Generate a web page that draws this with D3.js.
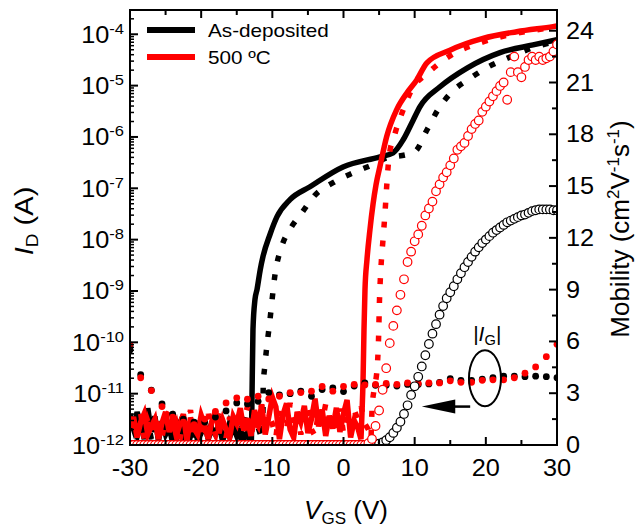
<!DOCTYPE html>
<html><head><meta charset="utf-8">
<script src="https://cdn.jsdelivr.net/npm/d3@7"></script>
<style>
body{margin:0;background:#fff}
svg{display:block}
text{font-family:"Liberation Sans",Arial,sans-serif;fill:#000}
</style>
</head><body>
<svg id="c" width="637" height="529"></svg>
<script>
// ---------------- DATA ----------------
const xDomain = [-30, 30];
const xTicks = [-30, -20, -10, 0, 10, 20, 30];
const xMinorTicks = [-25, -15, -5, 5, 15, 25];
const yDecades = [-12, -11, -10, -9, -8, -7, -6, -5, -4];
const yDomain = [1e-12, 2.97e-4];
const muTicks = [0, 3, 6, 9, 12, 15, 18, 21, 24];
const muMinorTicks = [1.5, 4.5, 7.5, 10.5, 13.5, 16.5, 19.5, 22.5];
const muDomain = [0, 25.2];
const legendLabels = ["As-deposited", "500 ºC"];
const seriesColors = ["#000000", "#ff0000"];

// sampling grids (V_GS)
const offStart = -30, offStep = 0.5;
const vgsMu = d3.range(-30, 30.001, 0.5);   // mobility sampling
const vgsIG = d3.range(-30, 30.001, 1.5);   // gate-current sampling

// Off-state drain current noise (pA) on the 0.5 V grid starting at -30 V
const idAsDepFwdOffPA = [3.2,2.0,4.4,2.6,1.3,5.2,1.8,3.6,1.2,2.9,
  1.6,2.2,1.1,1.9,2.7,1.3,2.0,1.5,2.8,1.2,
  1.7,2.4,1.3,2.1,1.6,2.6,1.2,1.9,1.4,2.3,
  1.5,2.0,1.3,1.8];
const idAsDepRevOffPA = [4.0,2.4,1.5,3.4,1.9,2.8,1.3,3.8,2.0,1.4,
  2.9,1.7,3.3,1.2,2.2,3.0,1.5,2.5,1.2,3.1,
  1.8,2.3,1.4,2.9,1.6,3.6,2.0,1.3,2.7,1.9,
  3.2,1.5,2.4,4.2,2.8,3.5,2.2];
const idAnnFwdOffPA = [2.2,3.5,1.4,2.8,4.1,1.6,2.3,3.2,1.3,2.7,
  4.4,1.8,3.0,1.5,2.5,4.0,1.2,3.4,2.1,1.6,
  3.8,2.4,1.3,2.9,4.6,1.7,3.1,2.0,1.4,3.6,
  2.6,5.2,1.9,3.3,1.5,4.8,2.2,6.0,1.6,3.5,
  8.5,5.5,1.3,3.9,6.5,2.0,1.4,4.4,2.8,5.8,
  1.7,3.2,8.0,2.3,4.9,1.5,3.7,2.1,5.3,1.8,
  4.1,7.5,1.4,3.0,2.2];
const idAnnRevOffPA = [3.0,1.6,2.4,4.2,1.3,2.9,1.8,3.6,2.2,1.4,
  3.3,4.5,1.7,2.6,1.2,3.8,2.0,4.8,1.5,2.7,
  3.4,1.3,4.0,2.3,1.6,5.0,2.8,1.4,3.5,2.1,
  4.3,1.7,2.9,5.6,1.5,3.2,2.4,6.2,1.8,4.0,
  2.6,1.4,5.4,3.1,1.9,6.6,2.5,4.2,1.6,3.4,
  5.9,2.0,1.5,4.6,2.8,6.3,1.9,3.6,2.2,5.1,
  1.7,3.9,2.4,4.8,3.2,5.5,2.6,2.0];

// On-state drain current (V, A)
const idAsDepFwdV = [-12.95,-12.86,-12.72,-12.44,-12.15,-11.7,-11.31,-10.33,-9.34,-7.52,-4.71,-0.07,5.13,6.96,8.36,9.77,10.75,13.56,17.36,22.0,26.63,30];
const idAsDepFwdA = [1.0e-12,7.8e-12,1.78e-10,6.8e-10,1.07e-9,2.6e-9,4.7e-9,1.26e-8,2.8e-8,6.0e-8,1.07e-7,2.6e-7,4.1e-7,4.9e-7,8.7e-7,2.1e-6,3.9e-6,9.5e-6,2.2e-5,4.4e-5,6.2e-5,7.8e-5];
const idAsDepRevV = [-11.45,-11.31,-11.28,-11.03,-10.33,-9.62,-8.68,-7.52,-5.87,-4.0,-1.47,1.34,4.15,6.54,7.52,10.05,11.74,13.28,15.25,17.78,20.31,23.40,26.49,28.6,30];
const idAsDepRevA = [1.3e-12,4.9e-12,1.38e-11,3.7e-11,2.75e-10,2.1e-9,7.4e-9,1.58e-8,3.3e-8,7.4e-8,1.29e-7,2.0e-7,2.9e-7,4.1e-7,4.2e-7,5.2e-7,1.38e-6,3.4e-6,7.6e-6,1.38e-5,2.3e-5,3.6e-5,5.4e-5,6.6e-5,7.4e-5];
const idAnnFwdV = [2.46,2.60,2.74,2.88,3.02,3.30,3.72,4.15,4.57,5.13,6.07,7.48,8.88,10.29,11.69,14.97,19.60,24.34,29.44,30];
const idAnnFwdA = [1.3e-12,4.3e-12,1.66e-11,1.78e-10,1.07e-9,4.1e-9,1.58e-8,4.9e-8,1.17e-7,2.7e-7,1.02e-6,3.4e-6,7.1e-6,1.29e-5,2.75e-5,4.9e-5,8.3e-5,1.12e-4,1.41e-4,1.45e-4];
const idAnnRevV = [3.87,4.01,4.29,4.71,4.92,5.06,5.27,5.55,5.83,6.07,6.40,7.24,8.40,9.58,11.73,14.97,19.60,24.38,30];
const idAnnRevA = [1.3e-12,4.9e-12,1.2e-11,2.95e-11,1.12e-10,6.8e-10,2.95e-9,1.0e-8,3.3e-8,1.1e-7,4.1e-7,1.17e-6,3.4e-6,8.3e-6,1.7e-5,3.8e-5,7.1e-5,1.05e-4,1.38e-4];

// Gate leakage |I_G| (pA) at vgsIG
const igAsDepPA = [70.8,23.4,11.7,6.3,4.0,3.2,2.8,2.8,3.5,4.6,
  6.6,6.3,7.1,10.5,9.5,10.0,11.2,8.9,12.0,12.9,
  11.0,14.1,16.2,14.5,14.5,14.1,15.1,15.1,15.5,16.6,
  19.5,18.2,18.2,19.1,20.4,21.9,21.9,21.4,21.9,21.4,
  20.4];
const igAnnPA = [89.1,20.4,11.5,5.6,3.5,2.8,2.5,3.2,4.5,6.6,
  8.3,7.8,8.9,7.9,8.9,10.5,10.5,11.2,13.8,11.2,
  13.8,15.1,14.8,15.1,15.8,15.1,16.2,15.8,16.2,16.2,
  17.8,16.6,16.6,18.2,18.6,18.6,20.4,25.1,33.1,52.5,
  91.2];

// Field-effect mobility (cm2/Vs) at vgsMu
const muAsDep = [0,0,0,0,0,0,0,0,0,0,
  0,0,0,0,0,0,0,0,0,0,
  0,0,0,0,0,0,0,0,0,0,
  0,0,0,0,0,0,0,0,0,0,
  0,0,0,0,0,0,0,0,0,0,
  0,0,0,0,0,0,0,0,0,0,
  0,0,0,0,0,0,0,0,0,
  0.03,0.08,0.15,0.28,0.45,0.7,1.0,1.35,1.8,2.3,
  2.9,3.4,3.95,4.55,5.2,5.85,6.45,7.0,7.55,8.05,
  8.5,8.85,9.2,9.6,9.95,10.3,10.6,10.9,11.2,11.45,
  11.7,11.9,12.1,12.3,12.45,12.6,12.75,12.9,13.0,13.1,
  13.2,13.3,13.35,13.45,13.55,13.6,13.65,13.65,13.65,13.65,
  13.6,13.6];
const muAnn = [0,0,0,0,0,0,0,0,0,0,
  0,0,0,0,0,0,0,0,0,0,
  0,0,0,0,0,0,0,0,0,0,
  0,0,0,0,0,0,0,0,0,0,
  0,0,0,0,0,0,0,0,0,0,
  0,0,0,0,0,0,0,0,0,0,
  0,0,0,0,0,0,0,
  0.1,0.35,1.1,2.0,3.2,4.45,5.9,6.9,7.8,8.7,
  9.6,10.6,11.2,11.8,12.2,12.7,13.3,13.7,14.1,14.7,
  15.1,15.5,15.8,16.2,16.6,17.1,17.3,17.5,17.9,18.3,
  18.6,18.8,19.3,19.6,19.9,20.2,20.5,20.8,21.0,20.0,
  21.6,22.5,21.6,21.3,21.9,22.3,22.5,22.3,22.5,22.3,
  22.4,22.5,22.8,23.2];

// ---------------- CHART ----------------
const svg = d3.select("#c");
const M = {l:130, r:557, t:10, b:445};
const x = d3.scaleLinear().domain(xDomain).range([M.l, M.r]);
const y = d3.scaleLog().domain(yDomain).range([M.b, M.t]);
const y2 = d3.scaleLinear().domain(muDomain).range([M.b, M.t]);

svg.append("defs").append("clipPath").attr("id","clip")
  .append("rect").attr("x",M.l).attr("y",M.t).attr("width",M.r-M.l).attr("height",M.b-M.t);

const lineLin = d3.line().x(d=>x(d[0])).y(d=>y(Math.max(d[1],1e-14)));
const lineSmooth = d3.line().x(d=>x(d[0])).y(d=>y(Math.max(d[1],1e-14))).curve(d3.curveMonotoneX);
function pathID(offPA, onV, onA){
  const off = offPA.map((v,i)=>[offStart+i*offStep, v*1e-12]);
  const on = onV.map((v,i)=>[v, onA[i]]);
  const offPath = lineLin(off.concat([on[0]]));
  const onPath = lineSmooth(on);
  return offPath + onPath.replace(/^M/, "L");
}

const plot = svg.append("g").attr("clip-path","url(#clip)");
const idSeries = [
  {d: pathID(idAsDepFwdOffPA, idAsDepFwdV, idAsDepFwdA), c: seriesColors[0], dash: null},
  {d: pathID(idAsDepRevOffPA, idAsDepRevV, idAsDepRevA), c: seriesColors[0], dash: "6,13"},
  {d: pathID(idAnnFwdOffPA, idAnnFwdV, idAnnFwdA), c: seriesColors[1], dash: null},
  {d: pathID(idAnnRevOffPA, idAnnRevV, idAnnRevA), c: seriesColors[1], dash: "6,13"}
];
idSeries.forEach(s=>{
  plot.append("path").attr("d", s.d)
    .attr("fill","none").attr("stroke", s.c).attr("stroke-width", 5.5)
    .attr("stroke-linejoin","miter")
    .attr("stroke-dasharray", s.dash);
});

// gate current dots
[[igAsDepPA, seriesColors[0]], [igAnnPA, seriesColors[1]]].forEach(([arr,c])=>{
  plot.append("g").selectAll("circle").data(arr).join("circle")
    .attr("cx",(d,i)=>x(vgsIG[i])).attr("cy",d=>y(d*1e-12)).attr("r",3.4).attr("fill",c);
});

// mobility open circles
[[muAsDep, seriesColors[0]], [muAnn, seriesColors[1]]].forEach(([arr,c])=>{
  plot.append("g").selectAll("circle").data(arr).join("circle")
    .attr("cx",(d,i)=>x(vgsMu[i])).attr("cy",d=>y2(d)).attr("r",4.3)
    .attr("fill","#fff").attr("stroke",c).attr("stroke-width",1.2);
});

// ---------- axes ----------
const ax = svg.append("g").attr("stroke","#000");
function tick(x1,y1,x2,y2_,w){ ax.append("line").attr("x1",x1).attr("y1",y1).attr("x2",x2).attr("y2",y2_).attr("stroke-width",w); }
yDecades.forEach(e=>{
  const v = Math.pow(10,e);
  tick(M.l, y(v), M.l+8, y(v), 2);
  for(let k=2;k<=9;k++){
    const mv = k*v;
    if(mv<=yDomain[1]) tick(M.l, y(mv), M.l+4, y(mv), 1.5);
  }
});
xTicks.forEach(v=>{ tick(x(v),M.b,x(v),M.b-8,2); tick(x(v),M.t,x(v),M.t+8,2); });
xMinorTicks.forEach(v=>{ tick(x(v),M.b,x(v),M.b-5,2); tick(x(v),M.t,x(v),M.t+5,2); });
muTicks.forEach(v=>tick(M.r,y2(v),M.r-8,y2(v),2));
muMinorTicks.forEach(v=>tick(M.r,y2(v),M.r-5,y2(v),2));
svg.append("rect").attr("x",M.l).attr("y",M.t).attr("width",M.r-M.l).attr("height",M.b-M.t)
  .attr("fill","none").attr("stroke","#000").attr("stroke-width",2);

// text helper: places text at (tx,ty) with a horizontal stretch
function stretched(tx, ty, sx, rot){
  return svg.append("text")
    .attr("transform", `translate(${tx},${ty})` + (rot?` rotate(${rot})`:"") + ` scale(${sx},1)`);
}

// tick labels
yDecades.forEach(e=>{
  const t = stretched(124, y(Math.pow(10,e))+8.5, 1.1).attr("text-anchor","end").attr("font-size",23);
  t.append("tspan").text("10");
  t.append("tspan").attr("dy",-9).attr("font-size",15).text("-"+Math.abs(e));
});
xTicks.forEach(v=>{
  stretched(x(v), 476, 1.1).attr("text-anchor","middle").attr("font-size",23)
    .text(v<0?"-"+Math.abs(v):v);
});
muTicks.forEach(v=>{
  stretched(566, y2(v)+8, 1.1).attr("text-anchor","start").attr("font-size",23).text(v);
});

// axis titles
const tY = stretched(33, 221, 1.12, -90).attr("text-anchor","middle").attr("font-size",26);
tY.append("tspan").attr("font-style","italic").text("I");
tY.append("tspan").attr("font-size",17).attr("dy",5).text("D");
tY.append("tspan").attr("dy",-5).text(" (A)");

const tX = stretched(346, 519, 1.0).attr("text-anchor","middle").attr("font-size",26);
tX.append("tspan").attr("font-style","italic").text("V");
tX.append("tspan").attr("font-size",17).attr("dy",5).text("GS");
tX.append("tspan").attr("dy",-5).text(" (V)");

const tR = stretched(629, 229, 1.0, -90).attr("text-anchor","middle").attr("font-size",26);
tR.append("tspan").text("Mobility (cm");
tR.append("tspan").attr("font-size",17).attr("dy",-10).text("2");
tR.append("tspan").attr("dy",10).text("V");
tR.append("tspan").attr("font-size",17).attr("dy",-10).text("-1");
tR.append("tspan").attr("dy",10).text("s");
tR.append("tspan").attr("font-size",17).attr("dy",-10).text("-1");
tR.append("tspan").attr("dy",10).text(")");

// legend
const lg = svg.append("g");
legendLabels.forEach((lab,i)=>{
  const yy = 30 + i*27;
  lg.append("line").attr("x1",147).attr("x2",195).attr("y1",yy).attr("y2",yy)
    .attr("stroke",seriesColors[i]).attr("stroke-width",6);
  stretched(208, yy+7, 1.15).attr("font-size",18).text(lab);
});

// |I_G| annotation (data coordinates)
const ann = svg.append("g");
ann.append("ellipse").attr("cx",x(19.88)).attr("cy",y(2.0e-11)).attr("rx",16).attr("ry",28)
  .attr("fill","none").attr("stroke","#000").attr("stroke-width",2);
const ay = y(5.6e-12);
ann.append("line").attr("x1",x(17.8)).attr("x2",x(15.2)).attr("y1",ay).attr("y2",ay)
  .attr("stroke","#000").attr("stroke-width",2.5);
ann.append("path").attr("d",`M${x(11.0)},${ay} L${x(15.7)},${ay-7} L${x(15.7)},${ay+7} Z`).attr("fill","#000");
const tg = stretched(x(20.2), y(1.05e-10), 1.05).attr("text-anchor","middle").attr("font-size",20);
tg.append("tspan").text("|");
tg.append("tspan").attr("font-style","italic").text("I");
tg.append("tspan").attr("font-size",14).attr("dy",4).text("G");
tg.append("tspan").attr("dy",-4).text("|");
</script>
</body></html>
